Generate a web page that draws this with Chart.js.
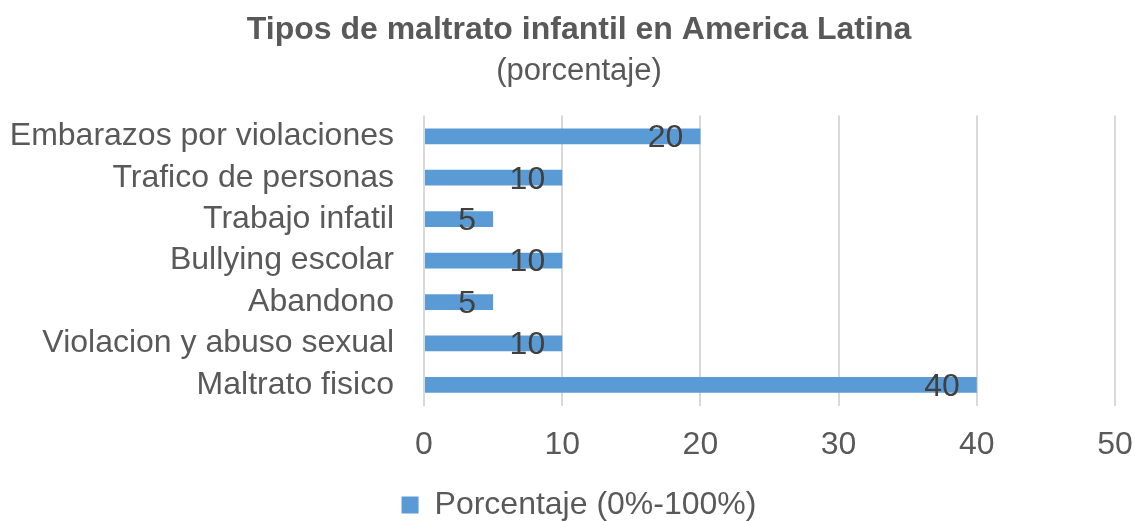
<!DOCTYPE html>
<html>
<head>
<meta charset="utf-8">
<script src="https://cdn.jsdelivr.net/npm/chart.js@4"></script>
<style>
  html, body { margin: 0; padding: 0; background: #fff; }
  #wrap { width: 1135px; height: 521px; }
</style>
</head>
<body>
<div id="wrap"><canvas id="chart" width="1135" height="521"></canvas></div>
<script>
// Chart data
const categories = [
  "Embarazos por violaciones",
  "Trafico de personas",
  "Trabajo infatil",
  "Bullying escolar",
  "Abandono",
  "Violacion y abuso sexual",
  "Maltrato fisico",
];
const porcentaje = [20, 10, 5, 10, 5, 10, 40];
const xTicks = [0, 10, 20, 30, 40, 50];

const FONT = "'Liberation Sans', Arial, sans-serif";

// Draws the value at the inner end of each bar
const barLabels = {
  id: "barLabels",
  afterDatasetsDraw(chart) {
    const ctx = chart.ctx;
    const meta = chart.getDatasetMeta(0);
    ctx.save();
    ctx.font = "32px " + FONT;
    ctx.fillStyle = "#404040";
    ctx.textAlign = "right";
    ctx.textBaseline = "middle";
    meta.data.forEach((bar, i) => {
      ctx.fillText(String(porcentaje[i]), bar.x - 17, bar.y + 2);
    });
    ctx.restore();
  },
};

// Long category names run past the left padding, so don't clip them
const noLabelClip = {
  id: "noLabelClip",
  afterLayout(chart) {
    chart.scales.y.left = 0;
  },
};

new Chart(document.getElementById("chart").getContext("2d"), {
  type: "bar",
  data: {
    labels: categories,
    datasets: [
      {
        label: "Porcentaje (0%-100%)",
        data: porcentaje,
        backgroundColor: "#5B9BD5",
        borderWidth: 0,
        categoryPercentage: 1,
        barPercentage: 0.38,
      },
    ],
  },
  options: {
    indexAxis: "y",
    responsive: false,
    animation: false,
    layout: { padding: { left: 24, right: 1, top: 11, bottom: -10 } },
    plugins: {
      title: {
        display: true,
        text: "Tipos de maltrato infantil en America Latina",
        color: "#595959",
        font: { family: FONT, size: 32, weight: "bold" },
        padding: { top: 0, bottom: 3 },
      },
      subtitle: {
        display: true,
        text: "(porcentaje)",
        color: "#595959",
        font: { family: FONT, size: 31 },
        padding: { top: 0, bottom: 26 },
      },
      legend: {
        position: "bottom",
        labels: {
          color: "#595959",
          font: { family: FONT, size: 32 },
          boxWidth: 17,
          boxHeight: 17,
          padding: 4,
        },
      },
      tooltip: { enabled: false },
    },
    scales: {
      x: {
        min: 0,
        max: 50,
        afterBuildTicks: (axis) => {
          axis.ticks = xTicks.map((v) => ({ value: v }));
        },
        afterFit: (scale) => {
          scale.height += 1;
          scale.paddingRight = 20;
        },
        ticks: {
          color: "#595959",
          font: { family: FONT, size: 32 },
          padding: 20,
        },
        grid: { color: "#d9d9d9", lineWidth: 2, drawTicks: false },
        border: { display: false },
      },
      y: {
        afterFit: (scale) => {
          scale.width = 400;
        },
        ticks: {
          autoSkip: false,
          color: "#595959",
          font: { family: FONT, size: 32 },
          padding: 30,
        },
        grid: { display: false, drawTicks: false },
        border: { display: false },
      },
    },
  },
  plugins: [barLabels, noLabelClip],
});
</script>
</body>
</html>
